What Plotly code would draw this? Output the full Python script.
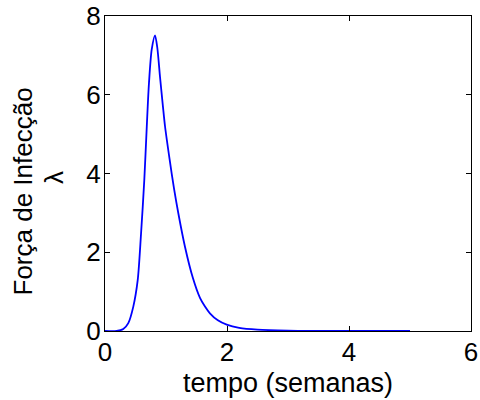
import plotly.graph_objects as go

# curve (tempo in semanas, lambda)
tempo = [0.0, 0.19, 0.30, 0.382, 0.464, 0.536, 0.59, 0.644, 0.685, 0.721, 0.766, 0.82,
         0.857, 0.902, 0.95, 0.984, 1.06, 1.131, 1.202, 1.311, 1.44, 1.557, 1.639, 1.72,
         1.85, 1.995, 2.2, 2.5, 3.0, 3.5, 4.0, 5.0]
lam = [0.0, 0.0, 0.05, 0.2, 0.62, 1.29, 2.45, 3.83, 5.2, 6.3, 7.15, 7.51,
       7.2, 6.45, 5.7, 5.2, 4.35, 3.62, 2.99, 2.14, 1.35, 0.84, 0.62, 0.45,
       0.27, 0.16, 0.08, 0.035, 0.01, 0.003, 0.0, 0.0]

x_ticks = [0, 2, 4, 6]
y_ticks = [0, 2, 4, 6, 8]

fig = go.Figure()
fig.add_trace(go.Scatter(
    x=tempo,
    y=lam,
    mode='lines',
    line=dict(color='rgb(0,0,255)', width=1.8, shape='spline', smoothing=0.8),
    showlegend=False
))

axis_style = dict(
    showline=True,
    linecolor='black',
    linewidth=1,
    mirror='ticks',
    ticks='inside',
    ticklen=5,
    tickcolor='black',
    showgrid=False,
    zeroline=False,
    automargin=False,
    ticklabeloverflow='allow',
    ticklabelstandoff=-2,
    tickfont=dict(size=26, color='black'),
)

fig.update_layout(
    width=480,
    height=400,
    margin=dict(l=105, r=9, t=16, b=69),
    paper_bgcolor='white',
    plot_bgcolor='white',
    font=dict(family='Liberation Sans, Arial, sans-serif', color='black'),
    xaxis=dict(range=[0, 6], tickvals=x_ticks, **axis_style),
    yaxis=dict(range=[0, 8], tickvals=y_ticks, **axis_style),
)

# axis titles as annotations so they sit where the reference has them
fig.add_annotation(text='tempo (semanas)', xref='paper', yref='paper',
                   x=0.5, y=-0.165, xanchor='center', yanchor='middle',
                   showarrow=False, font=dict(size=27))
fig.add_annotation(text='Força de Infecção', xref='paper', yref='paper',
                   x=-0.224, y=0.443, xanchor='center', yanchor='middle',
                   textangle=-90, showarrow=False, font=dict(size=26))
fig.add_annotation(text='λ', xref='paper', yref='paper',
                   x=-0.139, y=0.486, xanchor='center', yanchor='middle',
                   textangle=-90, showarrow=False, font=dict(size=26))

# drop the default 8px body margin so the figure fills the window
fig.write_html("out.html", config={'displayModeBar': False},
               post_script="document.body.style.margin='0';")
